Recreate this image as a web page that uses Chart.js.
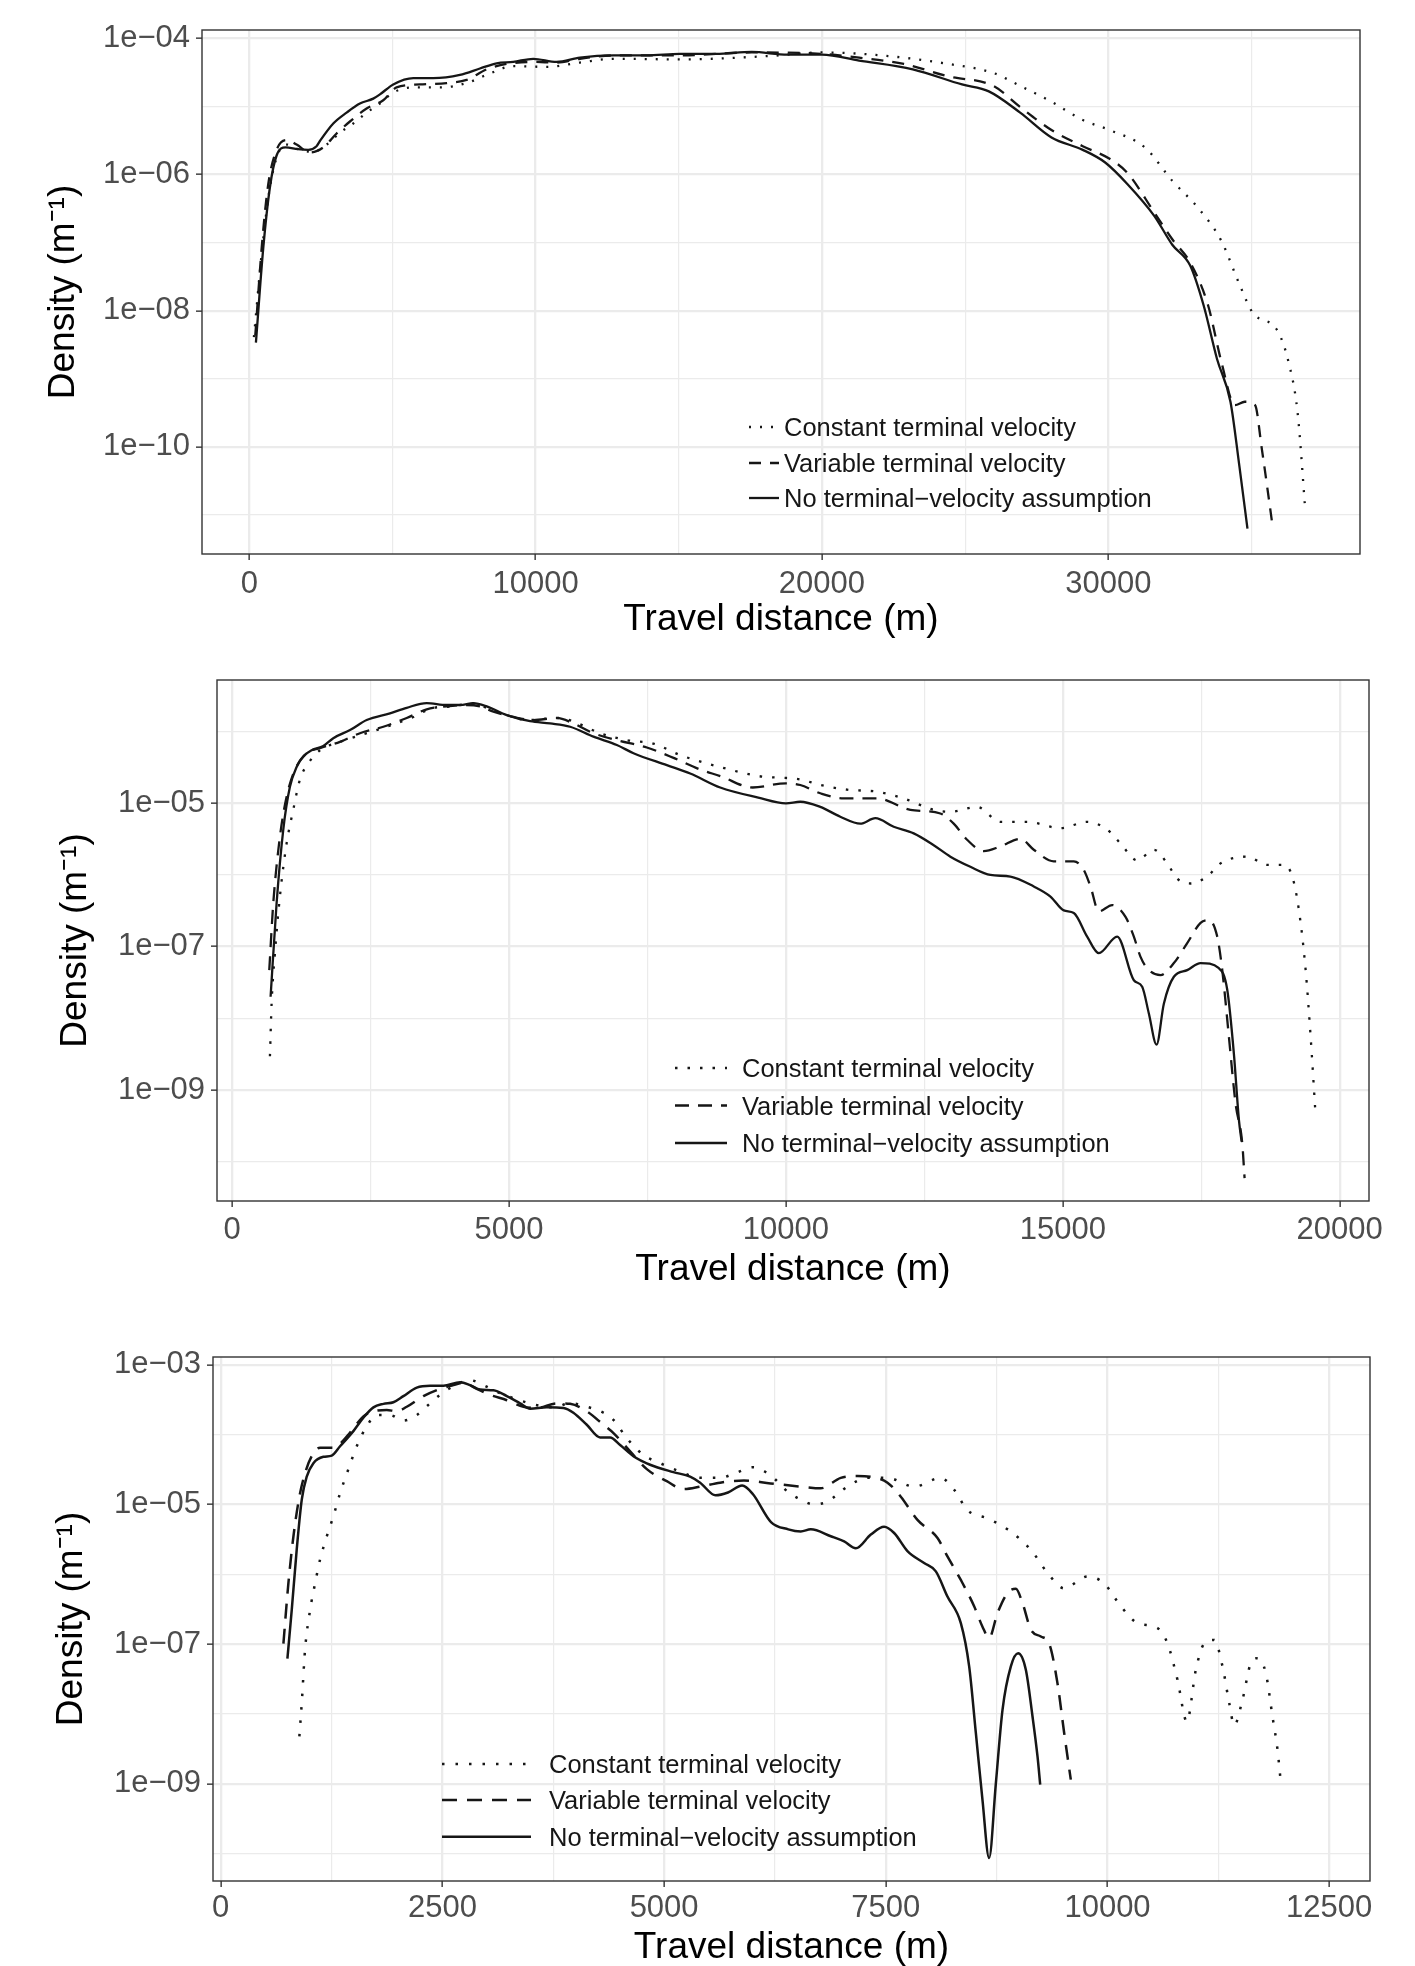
<!DOCTYPE html>
<html>
<head>
<meta charset="utf-8">
<script src="https://cdn.jsdelivr.net/npm/chart.js@4.4.1/dist/chart.umd.min.js"></script>
<style>
html,body{margin:0;padding:0;background:#ffffff;}
#wrap{position:relative;width:1415px;height:1966px;overflow:hidden;}
.panel{position:absolute;left:0;width:1415px;}
</style>
</head>
<body>
<div id="wrap">
  <div class="panel" style="top:0px;height:650px"><canvas id="c1"></canvas></div>
  <div class="panel" style="top:650px;height:665px"><canvas id="c2"></canvas></div>
  <div class="panel" style="top:1315px;height:651px"><canvas id="c3"></canvas></div>
</div>
<script>
// ---------------- DATA (travel distance in m, density in 1/m) ----------------
const seriesLabels = ['Constant terminal velocity', 'Variable terminal velocity', 'No terminal\u2212velocity assumption'];
const xTitle = 'Travel distance (m)';
const yTitle = 'Density (m\u207B\u00B9)';

// Panel 1
const p1XTicks = [0, 10000, 20000, 30000];
const p1XMinor = [5000, 15000, 25000, 35000];
const p1YTicks = [1e-4, 1e-6, 1e-8, 1e-10];
const p1YMinor = [1e-5, 1e-7, 1e-9, 1e-11];
const p1Const = [[163,4.1e-9],[454,8.3e-8],[722,6.5e-7],[1013,2.05e-6],[1304,2.75e-6],[1769,2.3e-6],[2235,2.15e-6],[2700,2.75e-6],[3166,4.1e-6],[3632,5.6e-6],[4098,8.1e-6],[4563,1.1e-5],[5029,1.6e-5],[5728,1.9e-5],[6659,1.9e-5],[7590,2.2e-5],[8289,2.9e-5],[9220,3.9e-5],[10384,3.8e-5],[11548,4.4e-5],[12712,5.0e-5],[15041,4.9e-5],[18172,5.5e-5],[20000,6.2e-5],[22078,5.6e-5],[24422,4.2e-5],[25984,3.1e-5],[26922,2.0e-5],[28016,1.17e-5],[29109,6.3e-6],[30047,4.5e-6],[31297,2.45e-6],[32234,8.1e-7],[33172,3.1e-7],[33953,1.05e-7],[34578,2.45e-8],[35047,9.3e-9],[35906,5.1e-9],[36297,1.74e-9],[36610,3.2e-10],[36880,1.17e-11]];
const p1Var = [[210,4.3e-9],[454,1.05e-7],[664,7.2e-7],[955,2.3e-6],[1304,3.2e-6],[1653,2.75e-6],[2119,2.1e-6],[2584,2.5e-6],[3050,4.0e-6],[3516,6.0e-6],[4098,9.3e-6],[4680,1.23e-5],[5146,1.9e-5],[5960,2.1e-5],[6892,2.2e-5],[7590,2.45e-5],[8289,3.5e-5],[8987,4.2e-5],[9919,4.5e-5],[10733,4.4e-5],[11548,5.0e-5],[12712,5.6e-5],[15041,5.6e-5],[17547,6.2e-5],[20000,5.9e-5],[21297,5.2e-5],[22860,4.2e-5],[24422,2.75e-5],[25984,2.0e-5],[26922,9.8e-6],[28016,4.5e-6],[29109,2.6e-6],[30047,1.7e-6],[30672,1.05e-6],[31610,2.75e-7],[32234,1.12e-7],[32859,5.1e-8],[33484,1.2e-8],[33953,1.74e-9],[34422,4.1e-10],[34766,4.6e-10],[35125,4.1e-10],[35359,9.5e-11],[35750,6.3e-12]];
const p1None = [[233,3.4e-9],[489,8.3e-8],[722,6.5e-7],[955,1.9e-6],[1270,2.5e-6],[1700,2.35e-6],[2060,2.3e-6],[2350,2.6e-6],[2468,3.1e-6],[2934,5.6e-6],[3400,8.1e-6],[3865,1.1e-5],[4331,1.3e-5],[4563,1.5e-5],[5029,2.1e-5],[5728,2.6e-5],[6426,2.6e-5],[7357,2.9e-5],[8056,3.6e-5],[8638,4.3e-5],[9220,4.5e-5],[9919,5.0e-5],[10733,4.5e-5],[11548,5.2e-5],[12712,5.6e-5],[13877,5.6e-5],[15041,5.9e-5],[16300,5.9e-5],[17547,6.3e-5],[18797,5.75e-5],[20000,5.75e-5],[21297,4.7e-5],[23172,3.5e-5],[24891,2.1e-5],[25828,1.66e-5],[26922,8.1e-6],[28016,3.5e-6],[29109,2.3e-6],[29891,1.5e-6],[30672,7.2e-7],[31610,2.45e-7],[32234,9.3e-8],[32859,4.6e-8],[33328,1.2e-8],[33797,1.95e-9],[34266,4.6e-10],[34578,5.2e-11],[34860,6.3e-12]];

// Panel 2
const p2XTicks = [0, 5000, 10000, 15000, 20000];
const p2XMinor = [2500, 7500, 12500, 17500];
const p2YTicks = [1e-5, 1e-7, 1e-9];
const p2YMinor = [1e-4, 1e-6, 1e-8, 1e-10];
const p2Const = [[681,2.95e-9],[711,1.6e-8],[771,8.1e-8],[861,5.0e-7],[982,2.75e-6],[1102,8.1e-6],[1223,2.15e-5],[1373,3.6e-5],[1584,5.5e-5],[1946,7.2e-5],[2307,8.9e-5],[2789,1.17e-4],[3271,1.6e-4],[3633,2.15e-4],[3994,2.25e-4],[4295,2.5e-4],[4596,2.15e-4],[4958,1.7e-4],[5319,1.45e-4],[5922,1.55e-4],[6163,1.38e-4],[6645,9.5e-5],[7127,7.6e-5],[7608,6.8e-5],[8090,4.7e-5],[8572,3.6e-5],[8813,3.2e-5],[9500,2.4e-5],[10259,2.15e-5],[10620,1.8e-5],[11102,1.55e-5],[11645,1.45e-5],[12127,1.17e-5],[12669,8.1e-6],[12970,7.6e-6],[13452,8.9e-6],[13873,5.5e-6],[14355,5.5e-6],[14958,4.5e-6],[15440,5.5e-6],[15801,4.3e-6],[16042,2.75e-6],[16343,1.6e-6],[16645,2.25e-6],[16886,1.45e-6],[17066,8.9e-7],[17307,7.6e-7],[17608,9.5e-7],[17849,1.45e-6],[18331,1.8e-6],[18693,1.38e-6],[18994,1.38e-6],[19145,9.5e-7],[19265,3.2e-7],[19386,4.7e-8],[19476,5.5e-9],[19560,5.2e-10]];
const p2Var = [[669,4.7e-8],[741,4.0e-7],[861,3.4e-6],[982,1.23e-5],[1133,2.95e-5],[1343,5.0e-5],[1584,5.9e-5],[1946,7.2e-5],[2307,9.5e-5],[2729,1.17e-4],[3151,1.55e-4],[3512,2.05e-4],[3873,2.25e-4],[4235,2.35e-4],[4476,2.25e-4],[4717,1.9e-4],[5078,1.6e-4],[5440,1.45e-4],[5861,1.55e-4],[6163,1.3e-4],[6524,9.5e-5],[6946,7.6e-5],[7488,6.0e-5],[7970,4.3e-5],[8452,2.95e-5],[8813,2.4e-5],[9400,1.66e-5],[10000,1.9e-5],[10259,1.8e-5],[10620,1.38e-5],[11042,1.17e-5],[11645,1.17e-5],[12247,8.1e-6],[12789,7.2e-6],[13030,5.2e-6],[13271,3.1e-6],[13572,2.15e-6],[13873,2.5e-6],[14235,3.2e-6],[14476,2.25e-6],[14837,1.55e-6],[15199,1.55e-6],[15380,1.17e-6],[15500,6.9e-7],[15651,3.1e-7],[15892,3.8e-7],[16133,2.6e-7],[16283,1.38e-7],[16404,7.2e-8],[16524,5.0e-8],[16765,4.0e-8],[17006,5.9e-8],[17247,1.12e-7],[17488,2.15e-7],[17639,2.35e-7],[17789,1.38e-7],[17880,4.7e-8],[18000,5.5e-9],[18120,6.5e-10],[18241,1.8e-10],[18283,5.9e-11]];
const p2None = [[693,2.0e-8],[801,4.0e-7],[922,4.3e-6],[1042,1.7e-5],[1163,3.2e-5],[1283,4.5e-5],[1434,5.5e-5],[1645,6.3e-5],[1825,8.1e-5],[2127,1.05e-4],[2428,1.45e-4],[2849,1.8e-4],[3151,2.15e-4],[3512,2.5e-4],[3873,2.35e-4],[4114,2.35e-4],[4355,2.5e-4],[4596,2.25e-4],[4958,1.7e-4],[5380,1.4e-4],[5741,1.3e-4],[6102,1.17e-4],[6524,8.5e-5],[6946,6.5e-5],[7247,5.0e-5],[7849,3.4e-5],[8271,2.6e-5],[8813,1.66e-5],[9500,1.2e-5],[10000,1.0e-5],[10259,1.05e-5],[10620,8.9e-6],[10982,6.5e-6],[11343,5.2e-6],[11614,6.2e-6],[11946,4.7e-6],[12307,3.8e-6],[12669,2.6e-6],[12970,1.8e-6],[13331,1.3e-6],[13693,1.0e-6],[14054,9.5e-7],[14476,6.9e-7],[14777,5.0e-7],[15018,3.2e-7],[15199,2.95e-7],[15440,1.38e-7],[15651,8.1e-8],[15982,1.38e-7],[16283,3.4e-8],[16434,2.75e-8],[16554,1.17e-8],[16693,4.3e-9],[16825,1.6e-8],[17006,3.8e-8],[17247,4.7e-8],[17488,5.9e-8],[17819,5.0e-8],[17970,2.5e-8],[18090,3.2e-9],[18181,3.8e-10],[18230,1.9e-10]];

// Panel 3
const p3XTicks = [0, 2500, 5000, 7500, 10000, 12500];
const p3XMinor = [1250, 3750, 6250, 8750, 11250];
const p3YTicks = [1e-3, 1e-5, 1e-7, 1e-9];
const p3YMinor = [1e-4, 1e-6, 1e-8, 1e-10];
const p3Const = [[887,4.8e-9],[914,1.45e-8],[951,8.3e-8],[1008,3.1e-7],[1064,7.4e-7],[1120,1.62e-6],[1196,3.5e-6],[1271,6.8e-6],[1346,1.45e-5],[1440,3.2e-5],[1534,6.8e-5],[1647,1.32e-4],[1759,1.9e-4],[1910,1.9e-4],[2060,1.58e-4],[2211,1.9e-4],[2361,2.8e-4],[2474,3.7e-4],[2624,4.9e-4],[2812,6.0e-4],[2962,5.1e-4],[3150,3.9e-4],[3339,3.2e-4],[3527,2.7e-4],[3752,2.45e-4],[3940,2.8e-4],[4128,2.5e-4],[4316,2.05e-4],[4429,1.62e-4],[4579,8.9e-5],[4767,5.1e-5],[4955,3.9e-5],[5180,2.95e-5],[5406,2.4e-5],[5632,2.4e-5],[5800,2.8e-5],[6000,3.4e-5],[6200,2.6e-5],[6400,1.5e-5],[6541,1.17e-5],[6692,1.0e-5],[6842,1.1e-5],[7068,1.8e-5],[7293,2.4e-5],[7519,2.4e-5],[7820,1.8e-5],[8120,2.4e-5],[8271,1.62e-5],[8421,8.3e-6],[8647,6.3e-6],[8872,4.4e-6],[9135,2.25e-6],[9323,1.05e-6],[9511,6.3e-7],[9774,9.3e-7],[9962,7.4e-7],[10150,3.5e-7],[10338,2.0e-7],[10564,1.7e-7],[10677,1.02e-7],[10789,3.1e-8],[10895,7.8e-9],[10996,4.3e-8],[11090,1.02e-7],[11203,1.15e-7],[11297,4.8e-8],[11372,1.45e-8],[11429,6.9e-9],[11523,1.62e-8],[11617,5.4e-8],[11692,6.3e-8],[11786,3.8e-8],[11861,9.1e-9],[11917,3.1e-9],[11955,1.02e-9]];
const p3Var = [[707,1.02e-7],[763,7.4e-7],[820,3.5e-6],[887,1.29e-5],[951,2.8e-5],[1026,4.9e-5],[1120,6.5e-5],[1252,6.5e-5],[1346,7.4e-5],[1459,1.07e-4],[1609,1.82e-4],[1722,2.15e-4],[1872,2.25e-4],[1985,2.15e-4],[2098,2.5e-4],[2286,3.55e-4],[2474,4.5e-4],[2624,5.1e-4],[2737,5.5e-4],[2887,4.5e-4],[3038,3.7e-4],[3226,3.1e-4],[3414,2.5e-4],[3564,2.4e-4],[3790,2.8e-4],[3940,2.75e-4],[4128,2.15e-4],[4316,1.38e-4],[4429,1.05e-4],[4617,5.75e-5],[4805,3.2e-5],[5030,2.15e-5],[5218,1.66e-5],[5406,1.8e-5],[5632,2.05e-5],[5900,2.2e-5],[6200,2.0e-5],[6541,1.8e-5],[6767,1.7e-5],[6992,2.4e-5],[7180,2.55e-5],[7387,2.4e-5],[7519,2.05e-5],[7669,1.29e-5],[7857,6.0e-6],[8083,3.3e-6],[8195,1.8e-6],[8346,8.3e-7],[8496,3.5e-7],[8590,1.78e-7],[8665,1.23e-7],[8760,2.8e-7],[8872,5.4e-7],[8966,6.2e-7],[9041,3.9e-7],[9135,1.62e-7],[9248,1.29e-7],[9342,1.02e-7],[9436,2.75e-8],[9511,5.4e-9],[9586,1.15e-9]];
const p3None = [[752,6.2e-8],[801,3.1e-7],[857,2.25e-6],[914,1.17e-5],[970,2.5e-5],[1045,3.9e-5],[1158,4.8e-5],[1252,5.0e-5],[1346,6.8e-5],[1496,1.12e-4],[1609,1.74e-4],[1722,2.45e-4],[1835,2.75e-4],[1947,2.9e-4],[2060,3.55e-4],[2211,4.7e-4],[2361,5.0e-4],[2511,5.0e-4],[2699,5.6e-4],[2812,5.1e-4],[2925,4.4e-4],[3075,4.3e-4],[3226,3.55e-4],[3376,2.8e-4],[3489,2.35e-4],[3677,2.45e-4],[3865,2.4e-4],[3977,2.05e-4],[4128,1.38e-4],[4278,9.1e-5],[4391,9.1e-5],[4504,7.1e-5],[4654,4.9e-5],[4842,3.7e-5],[5105,2.9e-5],[5293,2.5e-5],[5406,2.05e-5],[5580,1.35e-5],[5720,1.48e-5],[5880,1.86e-5],[6000,1.41e-5],[6205,5.6e-6],[6400,4.4e-6],[6541,4.1e-6],[6654,4.4e-6],[6880,3.5e-6],[7030,2.95e-6],[7162,2.35e-6],[7331,3.7e-6],[7481,4.8e-6],[7594,3.9e-6],[7744,2.15e-6],[7932,1.45e-6],[8064,1.1e-6],[8195,4.8e-7],[8346,2.0e-7],[8440,4.8e-8],[8515,5.4e-9],[8590,5.9e-10],[8665,8.7e-11],[8741,1.02e-9],[8816,1.15e-8],[8910,4.8e-8],[8992,7.4e-8],[9079,4.3e-8],[9154,9.3e-9],[9211,2.45e-9],[9241,9.8e-10]];

// ---------------- STYLE / LAYOUT ----------------
const FONT = '"Liberation Sans", Arial, Helvetica, sans-serif';
Chart.defaults.font.family = FONT;
Chart.defaults.animation = false;
const INK = '#161616';
const GRID = '#EBEBEB';
const AXIS = '#333333';
const TICKTXT = '#4D4D4D';

function expLabel(v) {
  const e = Math.round(Math.log10(v));
  const s = String(Math.abs(e)).padStart(2, '0');
  return '1e' + (e < 0 ? '\u2212' : '') + s;
}

const frameAndKey = {
  id: 'frameAndKey',
  afterDatasetsDraw(chart, args, o) {
    const {ctx, chartArea: a} = chart;
    ctx.save();
    ctx.strokeStyle = AXIS;
    ctx.lineWidth = 1.4;
    ctx.setLineDash([]);
    ctx.strokeRect(a.left, a.top, a.right - a.left, a.bottom - a.top);
    ctx.font = o.fontSize + 'px ' + FONT;
    ctx.textBaseline = 'middle';
    ctx.textAlign = 'left';
    chart.data.datasets.forEach((ds, i) => {
      const y = o.rows[i];
      ctx.beginPath();
      ctx.setLineDash(ds.borderDash || []);
      ctx.lineWidth = ds.borderWidth;
      ctx.strokeStyle = ds.borderColor;
      ctx.moveTo(o.keyX0, y);
      ctx.lineTo(o.keyX1, y);
      ctx.stroke();
      ctx.setLineDash([]);
      ctx.fillStyle = INK;
      ctx.fillText(ds.label, o.textX, y + o.textDy);
    });
    ctx.restore();
  }
};

function makePanel(id, p) {
  const ds = (label, pts, dash) => ({
    label, data: pts.map(([x, y]) => ({x, y})),
    borderColor: INK, backgroundColor: INK, borderWidth: p.lw, borderDash: dash,
    pointRadius: 0, fill: false, cubicInterpolationMode: 'monotone',
    borderJoinStyle: 'round', borderCapStyle: 'butt'
  });
  const xTickObjs = p.xMajor.map(v => ({value: v, lab: true})).concat(p.xMinor.map(v => ({value: v, lab: false})))
    .sort((a, b) => a.value - b.value);
  const yTickObjs = p.yMajor.map(v => ({value: v, lab: true})).concat(p.yMinor.map(v => ({value: v, lab: false})))
    .sort((a, b) => a.value - b.value);
  const gridOpts = {
    color: GRID,
    lineWidth: c => (c.tick && c.tick.lab) ? 2.3 : 1.2,
    tickLength: 6,
    tickColor: c => (c.tick && c.tick.lab) ? AXIS : 'rgba(0,0,0,0)',
    tickWidth: 1.4,
    drawTicks: true, drawOnChartArea: true
  };
  return new Chart(document.getElementById(id), {
    type: 'line',
    data: {datasets: [ds(seriesLabels[0], p.cst, p.dot), ds(seriesLabels[1], p.vr, p.dash), ds(seriesLabels[2], p.none, [])]},
    options: {
      responsive: true, maintainAspectRatio: false, animation: false,
      layout: {padding: {left: 0, top: p.area.top, right: 1415 - p.area.right, bottom: 0}},
      plugins: {legend: {display: false}, tooltip: {enabled: false}, frameAndKey: p.key},
      scales: {
        x: {
          type: 'linear', min: p.xMin, max: p.xMax, bounds: 'data',
          afterBuildTicks: s => { s.ticks = xTickObjs.map(t => ({...t})); },
          afterFit: s => { s.height = p.h - p.area.bottom; s.paddingLeft = 0; s.paddingRight = 0; },
          ticks: {autoSkip: false, maxRotation: 0, minRotation: 0, padding: p.xTickPad, color: TICKTXT,
                  font: {size: 31}, callback: (v, i, ticks) => ticks[i].lab ? String(v) : ''},
          grid: gridOpts, border: {display: false},
          title: {display: true, text: xTitle, color: '#000', font: {size: 37}, padding: {top: 0, bottom: p.xTitlePad}}
        },
        y: {
          type: 'logarithmic', min: p.yMin, max: p.yMax, bounds: 'data',
          afterBuildTicks: s => { s.ticks = yTickObjs.map(t => ({...t})); },
          afterFit: s => { s.width = p.area.left; s.paddingTop = 0; s.paddingBottom = 0; },
          ticks: {autoSkip: false, padding: 6, color: TICKTXT, font: {size: 31},
                  callback: (v, i, ticks) => ticks[i].lab ? expLabel(v) : ''},
          grid: gridOpts, border: {display: false},
          title: {display: true, text: yTitle, color: '#000', font: {size: 37}, padding: {top: p.yTitlePad, bottom: 0}}
        }
      }
    },
    plugins: [frameAndKey]
  });
}

makePanel('c1', {
  h: 650, area: {left: 202, right: 1360, top: 30, bottom: 554},
  xMin: -1650, xMax: 38790, yMin: 2.67e-12, yMax: 1.324e-4,
  xMajor: p1XTicks, xMinor: p1XMinor, yMajor: p1YTicks, yMinor: p1YMinor,
  cst: p1Const, vr: p1Var, none: p1None,
  lw: 2.3, dot: [2, 9], dash: [12, 9],
  xTickPad: 5.5, xTitlePad: 8.5, yTitlePad: 42,
  key: {keyX0: 749, keyX1: 779, textX: 784, rows: [427, 463, 498], textDy: 2, fontSize: 25.5}
});
makePanel('c2', {
  h: 665, area: {left: 217, right: 1369, top: 30, bottom: 551},
  xMin: -275, xMax: 20530, yMin: 2.825e-11, yMax: 5.25e-4,
  xMajor: p2XTicks, xMinor: p2XMinor, yMajor: p2YTicks, yMinor: p2YMinor,
  cst: p2Const, vr: p2Var, none: p2None,
  lw: 2.3, dot: [2.5, 10], dash: [14, 9],
  xTickPad: 5, xTitlePad: 23, yTitlePad: 54,
  key: {keyX0: 675, keyX1: 727, textX: 742, rows: [418, 455.5, 493], textDy: 2, fontSize: 25.5}
});
makePanel('c3', {
  h: 651, area: {left: 213, right: 1370, top: 42, bottom: 566},
  xMin: -87, xMax: 12960, yMin: 4.08e-11, yMax: 1.288e-3,
  xMajor: p3XTicks, xMinor: p3XMinor, yMajor: p3YTicks, yMinor: p3YMinor,
  cst: p3Const, vr: p3Var, none: p3None,
  lw: 2.5, dot: [2.5, 11], dash: [15, 10],
  xTickPad: 2.5, xTitlePad: -4, yTitlePad: 50,
  key: {keyX0: 442, keyX1: 531, textX: 549, rows: [449, 485, 521.7], textDy: 2, fontSize: 25.5}
});
</script>
</body>
</html>
